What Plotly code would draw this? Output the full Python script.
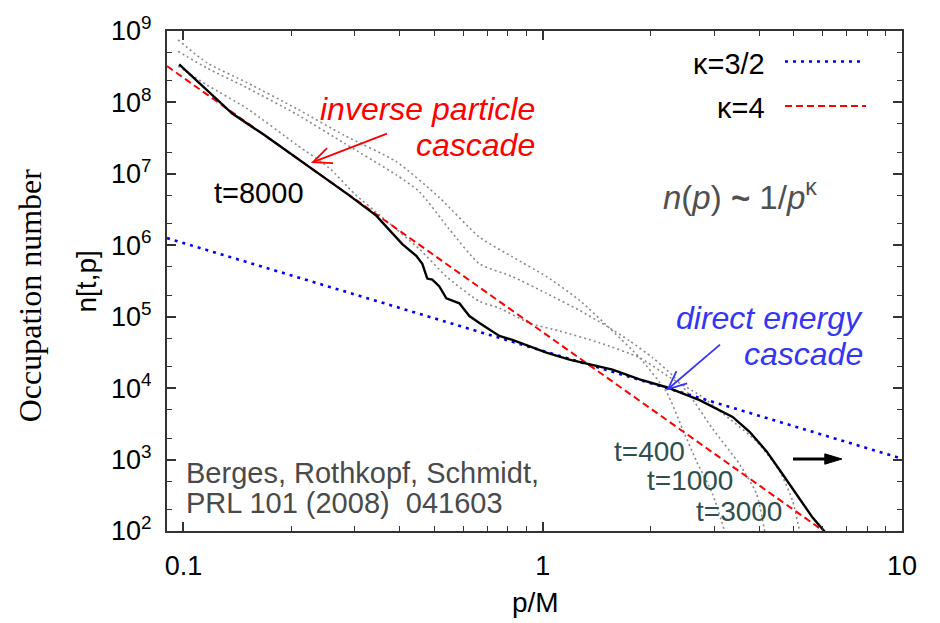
import math
import plotly.graph_objects as go

# ---------------- data ----------------
# t = 8000 (black solid)
p_8000 = [0.0973, 0.1367, 0.168, 0.210, 0.2466, 0.2894, 0.344, 0.4066, 0.4447, 0.4622,
          0.4772, 0.4928, 0.5155, 0.5392, 0.5861, 0.6249, 0.6665, 0.7575, 0.8233, 0.9361,
          1.024, 1.187, 1.375, 1.564, 1.860, 2.212, 2.733, 3.377, 3.765, 4.200,
          4.653, 5.188, 5.638, 6.089]
n_8000 = [3.40e8, 6.98e7, 3.49e7, 1.56e7, 8.9e6, 5.0e6, 2.6e6, 1.04e6, 7.11e5, 5.51e5,
          3.42e5, 3.31e5, 2.65e5, 1.81e5, 1.54e5, 1.02e5, 8.16e4, 5.39e4, 4.74e4, 3.68e4,
          3.14e4, 2.51e4, 2.14e4, 1.82e4, 1.33e4, 1.03e4, 6.81e3, 3.96e3, 2.45e3, 1.30e3,
          624, 282, 154, 98]

# earlier times (grey dotted)
p_400 = [0.0966, 0.1164, 0.1504, 0.2073, 0.2803, 0.3913, 0.5155, 0.6665, 0.8233, 1.024,
         1.265, 1.564, 1.860, 2.212, 2.449, 2.680, 2.970, 3.207]
n_400 = [7.53e8, 3.57e8, 1.89e8, 8.10e7, 3.46e7, 1.48e7, 4.66e6, 1.30e6, 6.89e5, 3.65e5,
         1.70e5, 6.32e4, 2.67e4, 8.77e3, 2.70e3, 944, 330, 100]

p_1000 = [0.0966, 0.1164, 0.1504, 0.2073, 0.2803, 0.3913, 0.4533, 0.5496, 0.6665, 0.8233,
          1.024, 1.265, 1.504, 1.744, 2.021, 2.327, 2.563, 2.970, 3.531, 3.938, 4.146]
n_1000 = [5.19e8, 3.02e8, 1.60e8, 6.76e7, 2.68e7, 9.68e6, 5.64e6, 1.68e6, 5.51e5, 3.65e5,
          2.12e5, 1.23e5, 7.41e4, 4.60e4, 2.67e4, 1.42e4, 7.98e3, 2.70e3, 859, 330, 100]

p_3000 = [0.0966, 0.1164, 0.1504, 0.2073, 0.2545, 0.2988, 0.3577, 0.4533, 0.5392, 0.6665,
          0.7575, 0.9183, 1.113, 1.439, 1.860, 2.254, 2.733, 3.312, 3.938, 4.566, 4.960, 5.188]
n_3000 = [3.22e8, 1.75e8, 8.2e7, 2.52e7, 1.21e7, 5.3e6, 2.46e6, 8.89e5, 3.65e5, 1.64e5,
          1.32e5, 8.16e4, 6.32e4, 4.32e4, 2.67e4, 1.42e4, 7.98e3, 3.72e3, 1.79e3, 687, 264, 100]

# power-law guide lines (end points)
p_k32 = [0.09, 10.0]
n_k32 = [1.26e6, 1.03e3]
p_k4 = [0.09, 6.05]
n_k4 = [3.22e8, 100.0]

x_tickvals = [0.1, 1, 10]
x_ticktext = ["0.1", "1", "10"]
y_tickvals = [1e2, 1e3, 1e4, 1e5, 1e6, 1e7, 1e8, 1e9]
y_ticktext = ["10<sup>%d</sup>" % k for k in range(2, 10)]
x_minor = [0.2, 0.3, 0.4, 0.5, 0.6, 0.7, 0.8, 0.9, 2, 3, 4, 5, 6, 7, 8, 9]
y_minor = [m * 10 ** k for k in range(2, 9) for m in (2, 5)]

# ---------------- figure ----------------
SANS = "Liberation Sans, Arial, Helvetica, sans-serif"
SERIF = "Liberation Serif, Times New Roman, serif"
GREY = "#8a8a8a"

fig = go.Figure()
for px_, ny_, nm in ((p_400, n_400, "t=400"), (p_1000, n_1000, "t=1000"), (p_3000, n_3000, "t=3000")):
    fig.add_trace(go.Scatter(x=px_, y=ny_, mode="lines", name=nm,
                             line=dict(color=GREY, width=1.6, dash="2px,3px",
                                       shape="spline", smoothing=0.6)))
fig.add_trace(go.Scatter(x=p_k32, y=n_k32, mode="lines", name="κ=3/2",
                         line=dict(color="#0000ff", width=2.6, dash="3px,5px")))
fig.add_trace(go.Scatter(x=p_k4, y=n_k4, mode="lines", name="κ=4",
                         line=dict(color="#ff0000", width=2, dash="7px,4px")))
fig.add_trace(go.Scatter(x=p_8000, y=n_8000, mode="lines", name="t=8000",
                         line=dict(color="black", width=2.4)))

L, R, T, B = 167, 902, 24, 531


def fx(px):
    return (px - L) / (R - L)


def fy(py):
    return (B - py) / (B - T)


anns = []
shapes = []


def txt(text, px, py, xanchor="left", size=27, color="black", family=SANS, angle=0):
    anns.append(dict(text=text, x=fx(px), y=fy(py), xref="paper", yref="paper",
                     xanchor=xanchor, yanchor="middle", showarrow=False, textangle=angle,
                     font=dict(size=size, color=color, family=family)))


def arrow(tip, tail, color, width, head_len, half_angle_deg, filled):
    tx, ty = tip
    sx, sy = tail
    dx, dy = sx - tx, sy - ty
    d = math.hypot(dx, dy)
    ux, uy = dx / d, dy / d
    a = math.radians(half_angle_deg)
    pts = []
    for sgn in (1, -1):
        c, s = math.cos(sgn * a), math.sin(sgn * a)
        rx, ry = ux * c - uy * s, ux * s + uy * c
        pts.append((tx + rx * head_len, ty + ry * head_len))
    if filled:
        base = (tx + ux * head_len * math.cos(a) * 0.95, ty + uy * head_len * math.cos(a) * 0.95)
        shapes.append(dict(type="line", xref="paper", yref="paper",
                           x0=fx(sx), y0=fy(sy), x1=fx(base[0]), y1=fy(base[1]),
                           line=dict(color=color, width=width)))
        path = "M %f %f L %f %f L %f %f Z" % (fx(tx), fy(ty), fx(pts[0][0]), fy(pts[0][1]),
                                            fx(pts[1][0]), fy(pts[1][1]))
        shapes.append(dict(type="path", xref="paper", yref="paper", path=path,
                           fillcolor=color, line=dict(color=color, width=1)))
    else:
        shapes.append(dict(type="line", xref="paper", yref="paper",
                           x0=fx(sx), y0=fy(sy), x1=fx(tx), y1=fy(ty),
                           line=dict(color=color, width=width)))
        path = "M %f %f L %f %f L %f %f" % (fx(pts[0][0]), fy(pts[0][1]), fx(tx), fy(ty),
                                          fx(pts[1][0]), fy(pts[1][1]))
        shapes.append(dict(type="path", xref="paper", yref="paper", path=path,
                           line=dict(color=color, width=width)))


RED = "#ff0000"
BLUE = "#3535f5"
SLATE = "#2f4f4f"

txt("<i>inverse particle</i>", 537, 103, "right", 32, RED)
txt("<i>cascade</i>", 537, 140, "right", 32, RED)
txt("<i>direct energy</i>", 865, 315, "right", 32, BLUE)
txt("<i>cascade</i>", 865, 352, "right", 32, BLUE)
txt("t=8000", 212, 188, "left", 29, "black")
txt("<i>n</i>(<i>p</i>) <b>~</b> 1/<i>p</i><sup>κ</sup>", 661, 190, "left", 33, "#505050")
txt("κ=3/2", 767, 57, "right", 29, "black")
txt("κ=4", 767, 102, "right", 29, "black")
txt("t=400", 612, 450, "left", 28, SLATE)
txt("t=1000", 645, 480, "left", 28, SLATE)
txt("t=3000", 694, 511, "left", 28, SLATE)
txt("Berges, Rothkopf, Schmidt,", 184, 472, "left", 29, "#4a4a4a")
txt("PRL 101 (2008)\u00a0\u00a0041603", 184, 503, "left", 29, "#4a4a4a")
txt("p/M", 535, 603, "center", 28, "black")
txt("Occupation number", 30, 292, "center", 32, "black", SERIF, -90)
txt("n[t,p]", 86, 278, "center", 28, "black", SANS, -90)

arrow((313, 157), (387, 128), RED, 1.8, 20, 24, False)
arrow((668, 387), (720, 342), BLUE, 1.8, 20, 24, False)
arrow((842, 458), (793, 458), "black", 3.2, 18, 17, True)

shapes += [
    dict(type="line", xref="paper", yref="paper", x0=fx(785), x1=fx(864), y0=fy(55), y1=fy(55),
         line=dict(color="#0000ff", width=2.6, dash="3px,5px")),
    dict(type="line", xref="paper", yref="paper", x0=fx(785), x1=fx(866), y0=fy(100), y1=fy(100),
         line=dict(color="#ff0000", width=2, dash="7px,4px")),
]

AX = "#333333"
fig.update_layout(
    width=940, height=623,
    margin=dict(l=L, r=940 - R, t=T, b=623 - B, pad=0),
    paper_bgcolor="white", plot_bgcolor="white",
    showlegend=False,
    annotations=anns, shapes=shapes,
    font=dict(family=SANS, color="black"),
)
fig.update_xaxes(type="log", range=[-1.0458, 1.0], tickmode="array",
                 tickvals=x_tickvals, ticktext=x_ticktext,
                 ticks="inside", ticklen=9, tickwidth=1.5, tickcolor=AX,
                 mirror="allticks", showline=True, linecolor=AX, linewidth=2,
                 showgrid=False, zeroline=False, ticklabelstandoff=10,
                 tickfont=dict(size=27, family=SANS, color="black"),
                 minor=dict(tickmode="array", tickvals=x_minor, ticks="inside",
                            ticklen=5, tickwidth=1, tickcolor=AX, showgrid=False))
fig.update_yaxes(type="log", range=[2, 9], tickmode="array",
                 tickvals=y_tickvals, ticktext=y_ticktext,
                 ticks="inside", ticklen=9, tickwidth=1.5, tickcolor=AX,
                 mirror="allticks", showline=True, linecolor=AX, linewidth=2,
                 showgrid=False, zeroline=False, ticklabelstandoff=8,
                 tickfont=dict(size=27, family=SANS, color="black"),
                 minor=dict(tickmode="array", tickvals=y_minor, ticks="inside",
                            ticklen=5, tickwidth=1, tickcolor=AX, showgrid=False))

fig.write_html("out.html")
